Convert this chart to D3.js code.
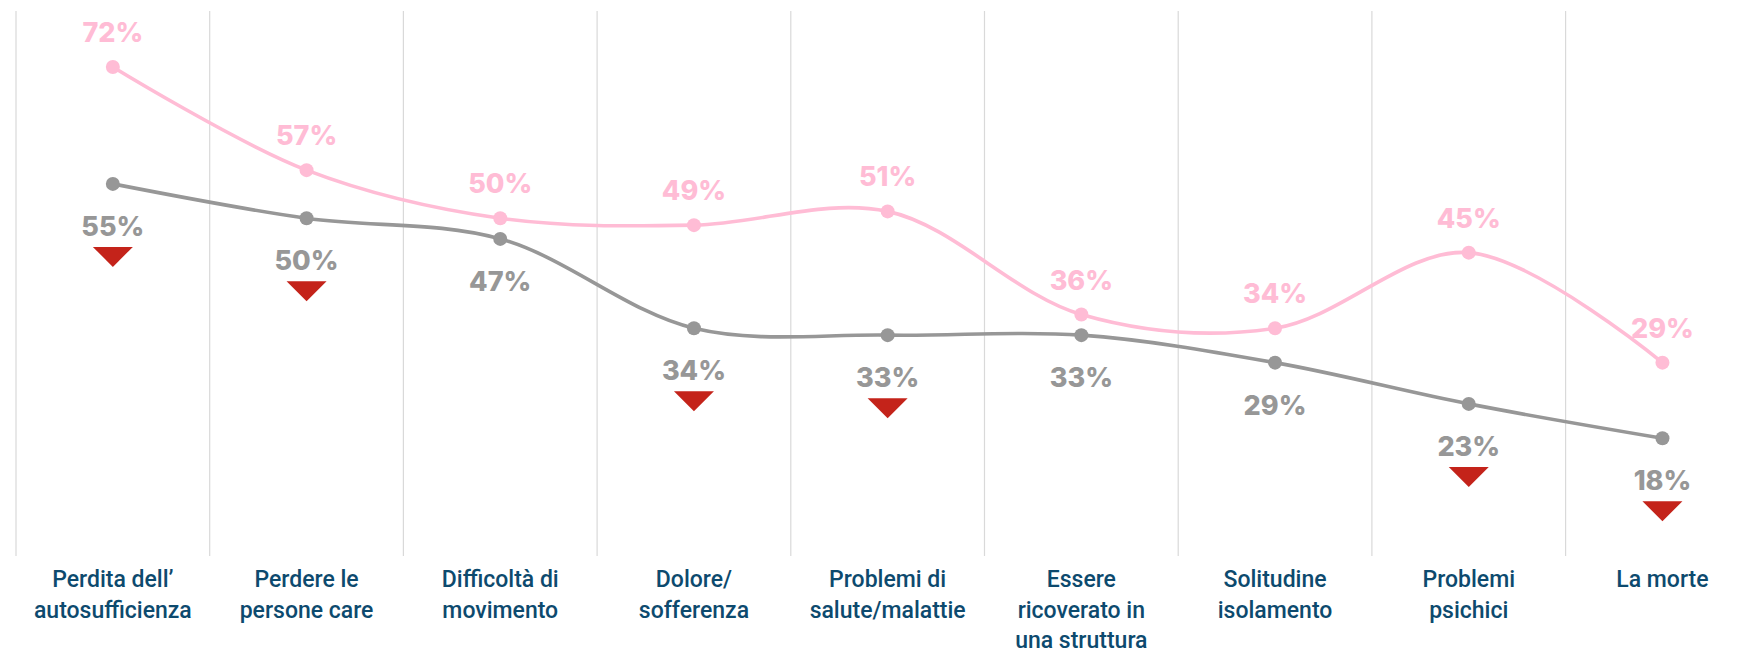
<!DOCTYPE html>
<html>
<head>
<meta charset="utf-8">
<script src="https://cdn.jsdelivr.net/npm/d3@7"></script>
<style>
  body { margin: 0; background: #fff; }
  svg { display: block; }
</style>
</head>
<body>
<div id="graph"></div>
<script>
// categories and their wrapped label lines
var categories = ["Perdita dell'autosufficienza", "Perdere le persone care", "Difficoltà di movimento", "Dolore/sofferenza", "Problemi di salute/malattie", "Essere ricoverato in una struttura", "Solitudine isolamento", "Problemi psichici", "La morte"];
var labelLines = [
  ["Perdita dell’", "autosufficienza"],
  ["Perdere le", "persone care"],
  ["Difficoltà di", "movimento"],
  ["Dolore/", "sofferenza"],
  ["Problemi di", "salute/malattie"],
  ["Essere", "ricoverato in", "una struttura"],
  ["Solitudine", "isolamento"],
  ["Problemi", "psichici"],
  ["La morte"]
];
var pinkValues = [72, 57, 50, 49, 51, 36, 34, 45, 29];
var greyValues = [55, 50, 47, 34, 33, 33, 29, 23, 18];
var decline = [true, true, false, true, true, false, false, true, true];

var width = 1738, height = 653;
var pink = "#ffbcd5", grey = "#979797", red = "#c4231a", navy = "#0d4a6e";

var svg = d3.select("#graph").append("svg")
    .attr("width", width).attr("height", height);

var x = d3.scaleBand()
    .domain(categories)
    .range([16, 16 + 9 * 193.7])
    .padding(0);

var y = d3.scaleLinear()
    .domain([0, 80])
    .range([562, 12]);

var cx = function(i){ return x(categories[i]) + x.bandwidth() / 2; };

// vertical separators
svg.append("g").selectAll("line")
    .data(categories)
  .enter().append("line")
    .attr("x1", function(d){ return x(d); })
    .attr("x2", function(d){ return x(d); })
    .attr("y1", 11)
    .attr("y2", 556)
    .attr("stroke", "#d9d9d9")
    .attr("stroke-width", 1.2);

var line = d3.line()
    .x(function(d, i){ return cx(i); })
    .y(function(d){ return y(d); })
    .curve(d3.curveCatmullRom.alpha(0.5));

function drawSeries(values, color){
  svg.append("path")
      .datum(values)
      .attr("d", line)
      .attr("fill", "none")
      .attr("stroke", color)
      .attr("stroke-width", 3.6);
  svg.append("g").selectAll("circle")
      .data(values)
    .enter().append("circle")
      .attr("cx", function(d, i){ return cx(i); })
      .attr("cy", function(d){ return y(d); })
      .attr("r", 7)
      .attr("fill", color);
}

drawSeries(pinkValues, pink);
drawSeries(greyValues, grey);

var numFont = "'Inter', 'Noto Sans', sans-serif";

// pink labels above
svg.append("g").selectAll("text")
    .data(pinkValues)
  .enter().append("text")
    .attr("x", function(d, i){ return cx(i); })
    .attr("y", function(d){ return y(d) - 35 + 10; })
    .attr("text-anchor", "middle")
    .attr("font-family", numFont)
    .attr("font-weight", 800)
    .attr("font-size", 27)
    .attr("fill", pink)
    .text(function(d){ return d + "%"; });

// grey labels below
svg.append("g").selectAll("text")
    .data(greyValues)
  .enter().append("text")
    .attr("x", function(d, i){ return cx(i); })
    .attr("y", function(d){ return y(d) + 42 + 10; })
    .attr("text-anchor", "middle")
    .attr("font-family", numFont)
    .attr("font-weight", 800)
    .attr("font-size", 27)
    .attr("fill", grey)
    .text(function(d){ return d + "%"; });

// red down triangles under the grey labels
var tri = greyValues
    .map(function(v, i){ return {v: v, i: i}; })
    .filter(function(d){ return decline[d.i]; });

svg.append("g").selectAll("path")
    .data(tri)
  .enter().append("path")
    .attr("transform", function(d){
      return "translate(" + cx(d.i) + "," + (y(d.v) + 42 + 21) + ")";
    })
    .attr("d", "M-20,0 L20,0 L0,20 Z")
    .attr("fill", red);

// category labels
var lab = svg.append("g").selectAll("text")
    .data(labelLines)
  .enter().append("text")
    .attr("text-anchor", "middle")
    .attr("font-family", "Roboto, 'Noto Sans', sans-serif")
    .attr("font-weight", 500)
    .attr("font-size", 23)
    .attr("fill", navy);

lab.selectAll("tspan")
    .data(function(d, i){ return d.map(function(t){ return {t: t, i: i}; }); })
  .enter().append("tspan")
    .attr("x", function(d){ return cx(d.i); })
    .attr("y", function(d, j){ return 587 + j * 30.5; })
    .text(function(d){ return d.t; });
</script>
</body>
</html>
